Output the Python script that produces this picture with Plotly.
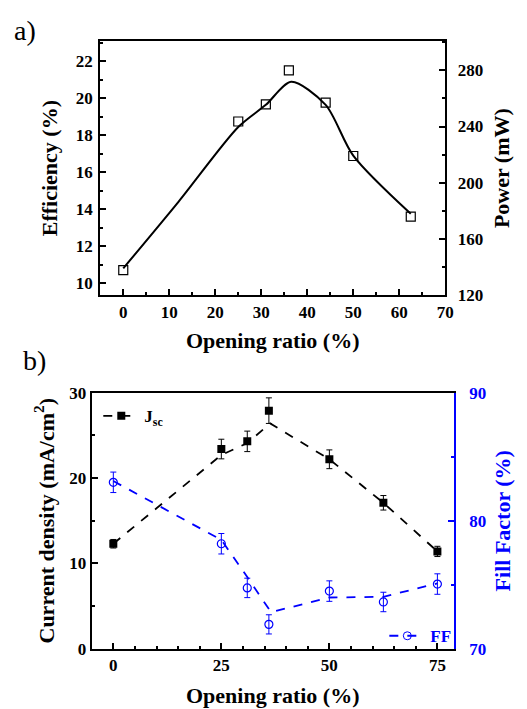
import plotly.graph_objects as go

# ---- Panel a data ----
ratio_a = [0, 25, 31, 36, 44, 50, 62.5]
efficiency = [10.7, 18.75, 19.68, 21.52, 19.77, 16.88, 13.6]
fit_x_a = [0, 12, 25, 31, 36.5, 44, 50, 62.5]
fit_y_a = [10.8, 14.4, 18.45, 19.65, 20.9, 19.65, 16.9, 13.75]

# ---- Panel b data ----
ratio_b = [0, 25, 31, 36, 50, 62.5, 75]
jsc = [12.3, 23.4, 24.3, 27.9, 22.2, 17.1, 11.4]
jsc_err = [0.5, 1.15, 1.2, 1.5, 1.1, 0.85, 0.6]
jsc_fit_x = [0, 25, 31, 36.3, 50, 62.5, 75]
jsc_fit_y = [12.3, 22.7, 24.1, 26.4, 22.2, 17.1, 11.4]
ff = [83.0, 78.2, 74.75, 71.9, 74.5, 73.65, 75.05]
ff_err = [0.8, 0.8, 0.76, 0.75, 0.8, 0.76, 0.8]
ff_fit_x = [0, 25, 31, 36.5, 50, 62.5, 75]
ff_fit_y = [83.1, 78.5, 75.6, 72.85, 74.0, 74.05, 75.1]

FONT = "Liberation Serif"
BLUE = "#0000ff"
W, H = 527, 709
TICK = 17
TITLE = 22

def px_x(p):
    return p / W

def px_y(p):
    return 1 - p / H

fig = go.Figure()

# Panel a
fig.add_trace(go.Scatter(x=fit_x_a, y=fit_y_a, mode="lines", line=dict(color="black", width=2, shape="spline", smoothing=0.8),
                         xaxis="x", yaxis="y", showlegend=False, hoverinfo="skip"))
fig.add_trace(go.Scatter(x=ratio_a, y=efficiency, mode="markers",
                         marker=dict(symbol="square-open", size=9, color="black", line=dict(width=1.2)),
                         xaxis="x", yaxis="y", showlegend=False))
fig.add_trace(go.Scatter(x=[None], y=[None], mode="markers", xaxis="x", yaxis="y2", showlegend=False))

# Panel b
fig.add_trace(go.Scatter(x=jsc_fit_x, y=jsc_fit_y, mode="lines", line=dict(color="black", width=1.8, dash="dash"),
                         xaxis="x2", yaxis="y3", showlegend=False, hoverinfo="skip"))
fig.add_trace(go.Scatter(x=ratio_b, y=jsc, mode="markers",
                         marker=dict(symbol="square", size=8, color="black"),
                         error_y=dict(type="data", array=jsc_err, color="black", thickness=1, width=3),
                         xaxis="x2", yaxis="y3", showlegend=False))
fig.add_trace(go.Scatter(x=ff_fit_x, y=ff_fit_y, mode="lines", line=dict(color=BLUE, width=1.8, dash="dash"),
                         xaxis="x2", yaxis="y4", showlegend=False, hoverinfo="skip"))
fig.add_trace(go.Scatter(x=ratio_b, y=ff, mode="markers",
                         marker=dict(symbol="circle-open", size=8, color=BLUE, line=dict(width=1.2)),
                         error_y=dict(type="data", array=ff_err, color=BLUE, thickness=1, width=3),
                         xaxis="x2", yaxis="y4", showlegend=False))
# legend entries
fig.add_trace(go.Scatter(x=[None], y=[None], mode="lines+markers", name="J<sub>sc</sub>",
                         line=dict(color="black", width=1.8, dash="dash"),
                         marker=dict(symbol="square", size=8, color="black"),
                         xaxis="x2", yaxis="y3", legend="legend"))
fig.add_trace(go.Scatter(x=[None], y=[None], mode="lines+markers", name="FF",
                         line=dict(color=BLUE, width=1.8, dash="dash"),
                         marker=dict(symbol="circle-open", size=8, color=BLUE),
                         xaxis="x2", yaxis="y4", legend="legend2"))

titlefont = dict(family=FONT, size=TITLE, color="black", weight="bold")

def axis_common(color="black", standoff=0):
    return dict(showgrid=False, zeroline=False, showline=True, linecolor=color, linewidth=2,
                ticks="inside", ticklen=6, tickwidth=1.5, tickcolor=color, ticklabelstandoff=standoff,
                tickfont=dict(family=FONT, size=TICK, color=color, weight="bold"))

fig.update_layout(
    width=W, height=H, margin=dict(l=0, r=0, t=0, b=0),
    plot_bgcolor="white", paper_bgcolor="white",
    font=dict(family=FONT),
    xaxis=dict(**axis_common(), domain=[px_x(102), px_x(453)], range=[-5, 70], dtick=10, tick0=0,
               minor=dict(dtick=5, ticks="inside", ticklen=3, tickcolor="black"),
               mirror=True, anchor="y",
               title=dict(text="Opening ratio (%)", font=titlefont, standoff=12)),
    yaxis=dict(**axis_common(standoff=2), domain=[px_y(294), px_y(33)], range=[9.35, 23.1], dtick=2, tick0=10,
               minor=dict(dtick=1, ticks="inside", ticklen=3, tickcolor="black"),
               anchor="x", title=dict(text="Efficiency (%)", font=titlefont, standoff=12)),
    yaxis2=dict(**axis_common(standoff=7), overlaying="y", side="right", anchor="x", range=[120, 300.8], dtick=40, tick0=120,
                minor=dict(dtick=20, ticks="inside", ticklen=3, tickcolor="black"),
                title=dict(text="Power (mW)", font=titlefont, standoff=11)),
    xaxis2=dict(**axis_common(), domain=[px_x(93.3), px_x(461.7)], range=[-5, 78.8], dtick=25, tick0=0,
                minor=dict(dtick=5, ticks="inside", ticklen=3, tickcolor="black"),
                mirror=True, anchor="y3",
                title=dict(text="Opening ratio (%)", font=titlefont, standoff=14)),
    yaxis3=dict(**axis_common(), domain=[px_y(657.3), px_y(394.3)], range=[0, 30], dtick=10, tick0=0,
                minor=dict(dtick=5, ticks="inside", ticklen=3, tickcolor="black"),
                anchor="x2", title=dict(text="Current density (mA/cm<sup>2</sup>)", font=titlefont, standoff=9)),
    yaxis4=dict(**axis_common(BLUE, standoff=10), overlaying="y3", side="right", anchor="x2", range=[70, 90], dtick=10, tick0=70,
                minor=dict(dtick=5, ticks="inside", ticklen=3, tickcolor=BLUE),
                title=dict(text="Fill Factor (%)", font=dict(family=FONT, size=TITLE, color=BLUE, weight="bold"), standoff=9)),
    legend=dict(x=px_x(100), y=px_y(400), xanchor="left", yanchor="top", bgcolor="rgba(0,0,0,0)",
                font=dict(family=FONT, size=17, color="black", weight="bold"), itemwidth=36),
    legend2=dict(x=px_x(391), y=px_y(626), xanchor="left", yanchor="top", bgcolor="rgba(0,0,0,0)",
                 font=dict(family=FONT, size=17, color=BLUE, weight="bold"), itemwidth=36),
    annotations=[
        dict(text="a)", x=px_x(12), y=px_y(22), xref="paper", yref="paper", xanchor="left", yanchor="middle",
             showarrow=False, font=dict(family=FONT, size=28, color="black")),
        dict(text="b)", x=px_x(21), y=px_y(361), xref="paper", yref="paper", xanchor="left", yanchor="middle",
             showarrow=False, font=dict(family=FONT, size=28, color="black")),
    ],
)

fig.write_html("out.html")
